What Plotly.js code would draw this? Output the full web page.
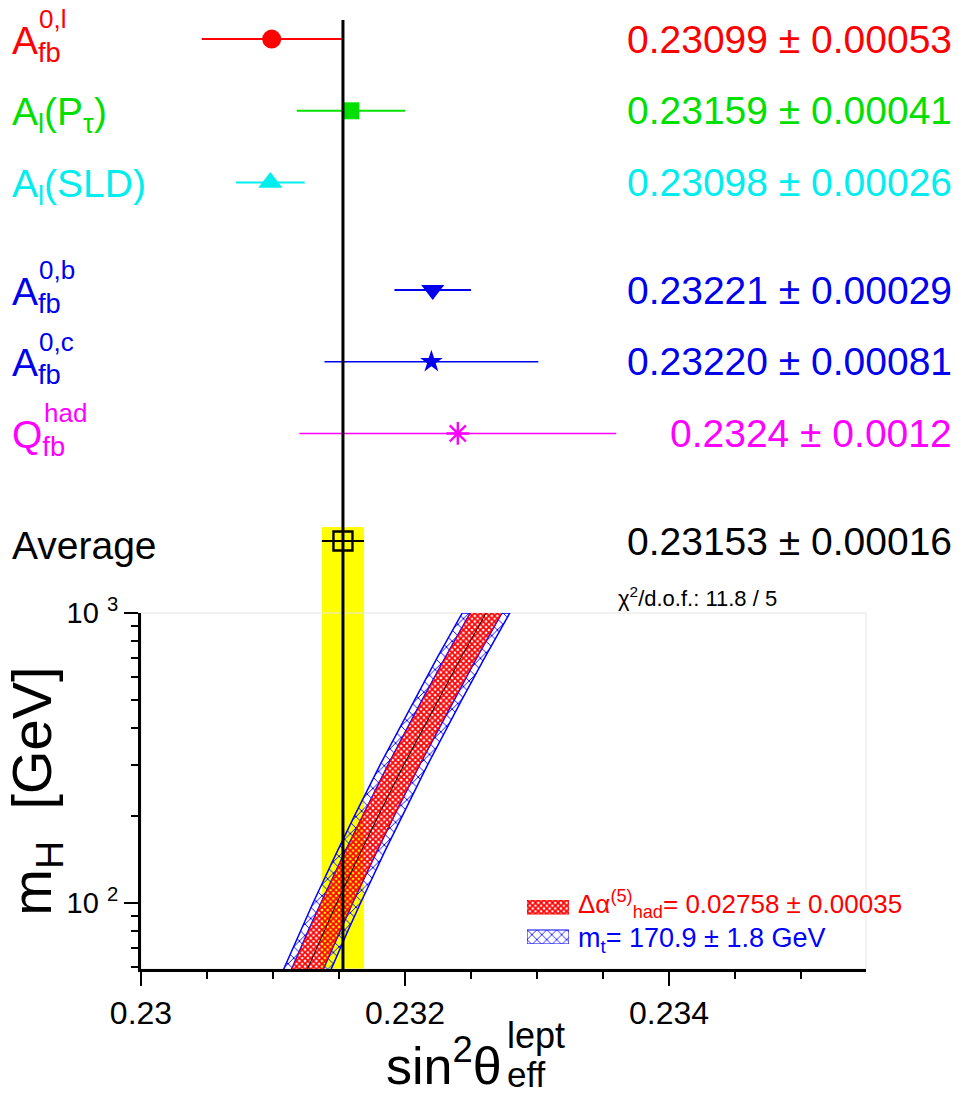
<!DOCTYPE html>
<html>
<head>
<meta charset="utf-8">
<script src="https://cdn.plot.ly/plotly-3.0.1.min.js"></script>
<style>html,body{margin:0;padding:0;background:#fff;}#chart{width:959px;height:1097px;}</style>
</head>
<body>
<div id="chart"></div>
<script>
// ---------------- data ----------------
const measLabels = ['A<sub>fb</sub>', 'A<sub>l</sub>(P<sub>τ</sub>)', 'A<sub>l</sub>(SLD)', 'A<sub>fb</sub>', 'A<sub>fb</sub>', 'Q<sub>fb</sub>', 'Average'];
const measSups = ['0,l', '', '', '0,b', '0,c', 'had', ''];
const measValues = [0.23099, 0.23159, 0.23098, 0.23221, 0.23220, 0.2324, 0.23153];
const measErrors = [0.00053, 0.00041, 0.00026, 0.00029, 0.00081, 0.0012, 0.00016];
const measTexts = ['0.23099 ± 0.00053', '0.23159 ± 0.00041', '0.23098 ± 0.00026', '0.23221 ± 0.00029', '0.23220 ± 0.00081', '0.2324 ± 0.0012', '0.23153 ± 0.00016'];

// SM prediction
const mH = [59, 80, 100, 150, 200, 300, 500, 700, 1000];
const smSin2 = [0.23126, 0.231386, 0.231483, 0.231665, 0.231798, 0.231992, 0.232248, 0.232423, 0.232614];
const alphaHalfWidth = 0.00012;   // Δα_had band half width
const mtHalfWidth = 0.00018;      // m_t band half width (outer)

const xTickVals = [0.23, 0.232, 0.234];
const yTickVals = [100, 1000];
const yTickText = ['10 <sup>2</sup>', '10 <sup>3</sup>'];
const yMinorVals = [60, 70, 80, 90, 200, 300, 400, 500, 600, 700, 800, 900];
const chi2Text = 'χ<sup>2</sup>/d.o.f.: 11.8 / 5';
const alphaLegend = 'Δα<sup>(5)</sup><sub>had</sub>= 0.02758 ± 0.00035';
const mtLegend = 'm<sub>t</sub>= 170.9 ± 1.8 GeV';

// ---------------- layout helpers ----------------
const rowPos = [7, 6, 5, 3.5, 2.5, 1.5, 0];
const colors = ['#ff0000', '#00e000', '#00eeee', '#0000ee', '#0000ee', '#ff00ff', '#000000'];
const markers = [
  {symbol: 'circle', size: 19},
  {symbol: 'square', size: 17},
  {symbol: 'triangle-up', size: 21},
  {symbol: 'triangle-down', size: 20},
  {symbol: 'star', size: 17},
  {symbol: 'asterisk-open', size: 19},
  {symbol: 'square-open', size: 19}
];
const barWidths = [2, 2, 2, 2, 1.5, 1.5, 2];
const FONT = 'Liberation Sans, Arial, Helvetica, sans-serif';
const RED = '#ff0000', BLUE = '#0000ff';

const W = 959, H = 1097;
const mL = 141, mR = 93, mT = 10, mB = 128;
const pw = W - mL - mR, ph = H - mT - mB;
const px2paperX = p => (p - mL) / pw;
const px2paperY = p => (H - mB - p) / ph;

const traces = [];

// ---- bottom panel bands ----
const rev = a => a.slice().reverse();
const cen = smSin2;
const left = (w) => cen.map(v => v - w);
const right = (w) => cen.map(v => v + w);

const bluePattern = {shape: 'x', size: 8, solidity: 0.22, fgcolor: BLUE, bgcolor: 'rgba(0,0,0,0)'};
const redPattern = {shape: 'x', size: 4, solidity: 0.7, fgcolor: RED, bgcolor: 'rgba(0,0,0,0)'};

// blue mt strips (left & right of red band)
traces.push({
  x: left(mtHalfWidth).concat(rev(left(alphaHalfWidth)), [null], right(alphaHalfWidth), rev(right(mtHalfWidth))),
  y: mH.concat(rev(mH), [null], mH, rev(mH)),
  xaxis: 'x', yaxis: 'y', type: 'scatter', mode: 'lines',
  fill: 'toself', fillcolor: 'rgba(0,0,0,0)', fillpattern: bluePattern,
  line: {color: BLUE, width: 1.5}, showlegend: false, hoverinfo: 'skip'
});
// red alpha band
traces.push({
  x: left(alphaHalfWidth).concat(rev(right(alphaHalfWidth))),
  y: mH.concat(rev(mH)), xaxis: 'x', yaxis: 'y', type: 'scatter', mode: 'lines',
  fill: 'toself', fillcolor: 'rgba(0,0,0,0)', fillpattern: redPattern,
  line: {color: RED, width: 0.5}, showlegend: false, hoverinfo: 'skip'
});
// central curve
traces.push({
  x: cen, y: mH, xaxis: 'x', yaxis: 'y', type: 'scatter', mode: 'lines',
  line: {color: '#000000', width: 1}, showlegend: false, hoverinfo: 'skip'
});

// ---- legend swatches (own small axes) ----
traces.push({
  x: [0, 1, 1, 0, 0], y: [30, 30, 44, 44, 30], xaxis: 'x3', yaxis: 'y3', type: 'scatter', mode: 'lines',
  fill: 'toself', fillcolor: 'rgba(0,0,0,0)', fillpattern: redPattern,
  line: {color: RED, width: 1}, showlegend: false, hoverinfo: 'skip'
});
traces.push({
  x: [0, 1, 1, 0, 0], y: [0, 0, 14, 14, 0], xaxis: 'x3', yaxis: 'y3', type: 'scatter', mode: 'lines',
  fill: 'toself', fillcolor: 'rgba(0,0,0,0)', fillpattern: {shape: 'x', size: 7, solidity: 0.22, fgcolor: BLUE, bgcolor: 'rgba(0,0,0,0)'},
  line: {color: BLUE, width: 1}, showlegend: false, hoverinfo: 'skip'
});

// ---- upper panel measurements ----
for (let i = 0; i < measValues.length; i++) {
  const m = markers[i];
  const open = m.symbol.indexOf('open') >= 0;
  traces.push({
    x: [measValues[i]], y: [rowPos[i]], xaxis: 'x', yaxis: 'y2', type: 'scatter', mode: 'markers',
    error_x: {type: 'data', array: [measErrors[i]], symmetric: true, color: colors[i], thickness: barWidths[i], width: 0},
    marker: {symbol: m.symbol, size: m.size, color: colors[i],
             line: {color: colors[i], width: open ? 2.4 : 0}},
    showlegend: false, hoverinfo: 'skip', cliponaxis: false
  });
}

// ---- annotations ----
const ann = [];
for (let i = 0; i < measValues.length; i++) {
  ann.push({xref: 'paper', yref: 'y2', x: px2paperX(10), y: rowPos[i], xanchor: 'left', yanchor: 'middle',
    text: measLabels[i], showarrow: false, font: {family: FONT, size: 39, color: colors[i]}, yshift: -4});
  if (measSups[i]) {
    ann.push({xref: 'paper', yref: 'y2', x: px2paperX(measSups[i] === 'had' ? 42 : 37), y: rowPos[i], xanchor: 'left', yanchor: 'middle',
      text: measSups[i], showarrow: false, font: {family: FONT, size: 26, color: colors[i]}, yshift: 20});
  }
  ann.push({xref: 'paper', yref: 'y2', x: px2paperX(954), y: rowPos[i], xanchor: 'right', yanchor: 'middle',
    text: measTexts[i], showarrow: false, font: {family: FONT, size: 39, color: colors[i]}});
}
ann.push({xref: 'paper', yref: 'paper', x: px2paperX(697), y: px2paperY(597), xanchor: 'center', yanchor: 'middle',
  text: chi2Text, showarrow: false, font: {family: FONT, size: 22, color: '#000'}});
// legend texts
ann.push({xref: 'paper', yref: 'paper', x: px2paperX(576), y: px2paperY(904), xanchor: 'left', yanchor: 'middle',
  text: alphaLegend, showarrow: false, font: {family: FONT, size: 26, color: RED}});
ann.push({xref: 'paper', yref: 'paper', x: px2paperX(576), y: px2paperY(940), xanchor: 'left', yanchor: 'middle',
  text: mtLegend, showarrow: false, font: {family: FONT, size: 27, color: BLUE}});
// x title (stacked scripts)
ann.push({xref: 'paper', yref: 'paper', x: px2paperX(504), y: px2paperY(1062), xanchor: 'right', yanchor: 'middle',
  text: 'sin<sup>2</sup>θ', showarrow: false, font: {family: FONT, size: 52, color: '#000'}});
ann.push({xref: 'paper', yref: 'paper', x: px2paperX(505), y: px2paperY(1035), xanchor: 'left', yanchor: 'middle',
  text: 'lept', showarrow: false, font: {family: FONT, size: 36, color: '#000'}});
ann.push({xref: 'paper', yref: 'paper', x: px2paperX(505), y: px2paperY(1074), xanchor: 'left', yanchor: 'middle',
  text: 'eff', showarrow: false, font: {family: FONT, size: 35, color: '#000'}});

const avg = measValues[6], avgErr = measErrors[6];
const bottomTop = px2paperY(613);

const layout = {
  width: W, height: H,
  margin: {l: mL, r: mR, t: mT, b: mB},
  paper_bgcolor: '#ffffff', plot_bgcolor: 'rgba(0,0,0,0)',
  font: {family: FONT, color: '#000'},
  showlegend: false,
  xaxis: {
    domain: [0, 1], anchor: 'y', range: [0.23, 0.23 + pw / 132000],
    tickvals: xTickVals, ticks: 'outside', ticklen: 14, tickwidth: 2, tickcolor: '#000',
    minor: {ticks: 'outside', ticklen: 7, tickwidth: 2, tickcolor: '#000', dtick: 0.0005, tick0: 0.23, showgrid: false},
    showline: true, linewidth: 3, linecolor: '#000', showgrid: false, zeroline: false,
    tickfont: {family: FONT, size: 32, color: '#000'},
    title: {text: ''}
  },
  yaxis: {
    domain: [0, bottomTop], anchor: 'x', type: 'log', range: [Math.log10(59.2), 3],
    tickvals: yTickVals, ticktext: yTickText, ticks: 'outside', ticklen: 14, tickwidth: 2, tickcolor: '#000',
    minor: {ticks: 'outside', ticklen: 7, tickwidth: 2, tickcolor: '#000', tickvals: yMinorVals, showgrid: false},
    showline: true, linewidth: 3, linecolor: '#000', showgrid: false, zeroline: false,
    tickfont: {family: FONT, size: 29, color: '#000'},
    title: {text: 'm<sub>H</sub>  [GeV]', font: {family: FONT, size: 56, color: '#000'}, standoff: 2}
  },
  yaxis2: {
    domain: [bottomTop, 1], anchor: 'x', range: [-(613 - 541) / 71.7, (541 - 10) / 71.7],
    visible: false, showgrid: false, zeroline: false
  },
  xaxis3: {domain: [px2paperX(527), px2paperX(569)], anchor: 'y3', range: [0, 1], visible: false, fixedrange: true},
  yaxis3: {domain: [px2paperY(944), px2paperY(900)], anchor: 'x3', range: [0, 44], visible: false, fixedrange: true},
  shapes: [
    {type: 'rect', xref: 'x', yref: 'paper', x0: avg - avgErr, x1: avg + avgErr, y0: 0, y1: px2paperY(527),
     fillcolor: '#ffff00', line: {width: 0}, layer: 'below'},
    {type: 'rect', xref: 'x domain', yref: 'y domain', x0: 0, x1: 1, y0: 0, y1: 1,
     fillcolor: 'rgba(0,0,0,0)', line: {color: '#e4e4e4', width: 1}, layer: 'below'},
    {type: 'line', xref: 'x', yref: 'paper', x0: avg, x1: avg, y0: 0, y1: px2paperY(20),
     line: {color: '#000', width: 3}, layer: 'above'}
  ],
  annotations: ann
};

Plotly.newPlot('chart', traces, layout, {staticPlot: true, displayModeBar: false});
</script>
</body>
</html>
